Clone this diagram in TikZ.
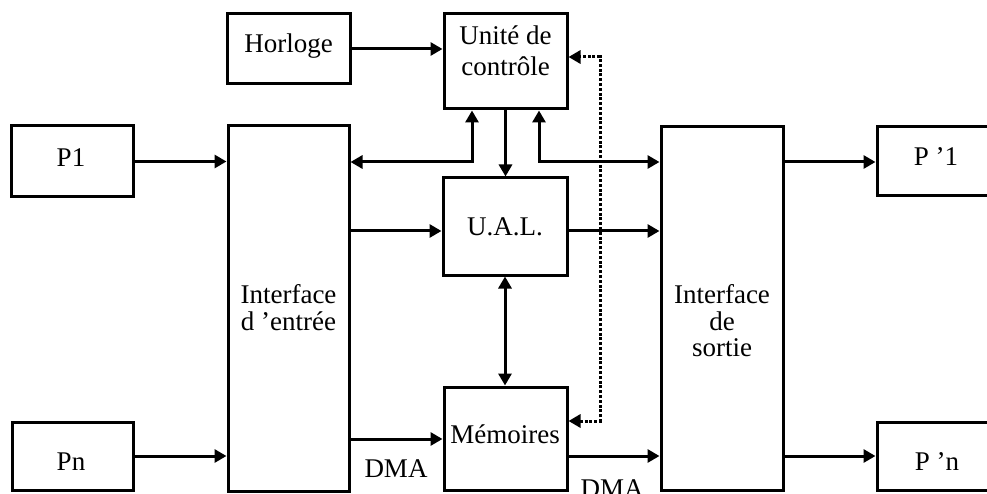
\documentclass[tikz,border=0pt]{standalone}
\usepackage{fontspec}
\setmainfont{Liberation Serif}
\usetikzlibrary{arrows.meta}

\begin{document}
\begin{tikzpicture}[x=1pt,y=-1pt,
  box/.style={draw,line width=3pt,inner sep=0pt,minimum width=#1},
  box/.default=122pt,
  txt/.style={anchor=base,inner sep=0pt,font=\fontsize{27}{31}\selectfont},
  arr/.style={line width=3pt,-{Triangle[length=12pt,width=13pt]}},
  dbl/.style={line width=3pt,{Triangle[length=12pt,width=13pt]}-{Triangle[length=12pt,width=13pt]}},
  dots/.style={dash pattern=on 3pt off 1.8pt}]
\useasboundingbox (0,0) rectangle (987,494);

% blocks
\node[box=123pt,minimum height=70pt]  (hor) at (288.5,49)    {};
\node[box=123pt,minimum height=95pt]  (uc)  at (505.5,61.5)  {};
\node[box,minimum height=71pt]        (p1)  at (72,161.5)    {};
\node[box=121pt,minimum height=365pt] (ent) at (288.5,308.5) {};
\node[box=124pt,minimum height=97pt]  (ual) at (505,226.5)   {};
\node[box,minimum height=363pt]       (sor) at (722,308.5)   {};
\node[box=123pt,minimum height=69pt]  (pp1) at (938.5,161.5) {};
\node[box=123pt,minimum height=103pt] (mem) at (505.5,438.5) {};
\node[box=121pt,minimum height=68pt]  (pn)  at (72.5,456)    {};
\node[box=123pt,minimum height=68pt]  (ppn) at (938.5,456)   {};

% labels
\node[txt] (thor)  at (288.5,53)  {Horloge};
\node[txt] (tuc1)  at (505.5,45)  {Unité de};
\node[txt] (tuc2)  at (505.5,76)  {contrôle};
\node[txt] (tp1)   at (71,167)    {P1};
\node[txt] (tpp1)  at (936,166)   {P ’1};
\node[txt] (tual)  at (505,236)   {U.A.L.};
\node[txt] (tent1) at (288.5,303) {Interface};
\node[txt] (tent2) at (288.5,330) {d ’entrée};
\node[txt] (tsor1) at (722,303)   {Interface};
\node[txt] (tsor2) at (722,330)   {de};
\node[txt] (tsor3) at (722,356)   {sortie};
\node[txt] (tmem)  at (505,443)   {Mémoires};
\node[txt] (tpn)   at (71,470)    {Pn};
\node[txt] (tppn)  at (937,470)   {P ’n};
\node[txt] (dma1)  at (396,477)   {DMA};
\node[txt] (dma2)  at (612,497)   {DMA};

% connectors
\draw[arr] (hor.east) -- (uc.west |- hor.east);
\draw[arr] (p1.east) -- (ent.west |- p1.east);
\draw[arr] (pn.east) -- (ent.west |- pn.east);
\draw[dbl] (ent.east |- 0,162) -| (472,0 |- uc.south);
\draw[arr] (uc.south) -- (uc.south |- ual.north);
\draw[dbl] (539,0 |- uc.south) |- (sor.west |- 0,162);
\draw[arr] (ent.east |- 0,231) -- (ual.west |- 0,231);
\draw[arr] (ual.east |- 0,231) -- (sor.west |- 0,231);
\draw[dbl] (ual.south) -- (ual.south |- mem.north);
\draw[arr] (ent.east |- 0,439) -- (mem.west |- 0,439);
\draw[arr] (mem.east |- 0,456) -- (sor.west |- 0,456);
\draw[arr] (sor.east |- 0,162) -- (pp1.west |- 0,162);
\draw[arr] (sor.east |- ppn.west) -- (ppn.west);
\draw[dbl,dots] (mem.east |- 0,421) -| (600,57) -- (uc.east |- 0,57);
\end{tikzpicture}
\end{document}
